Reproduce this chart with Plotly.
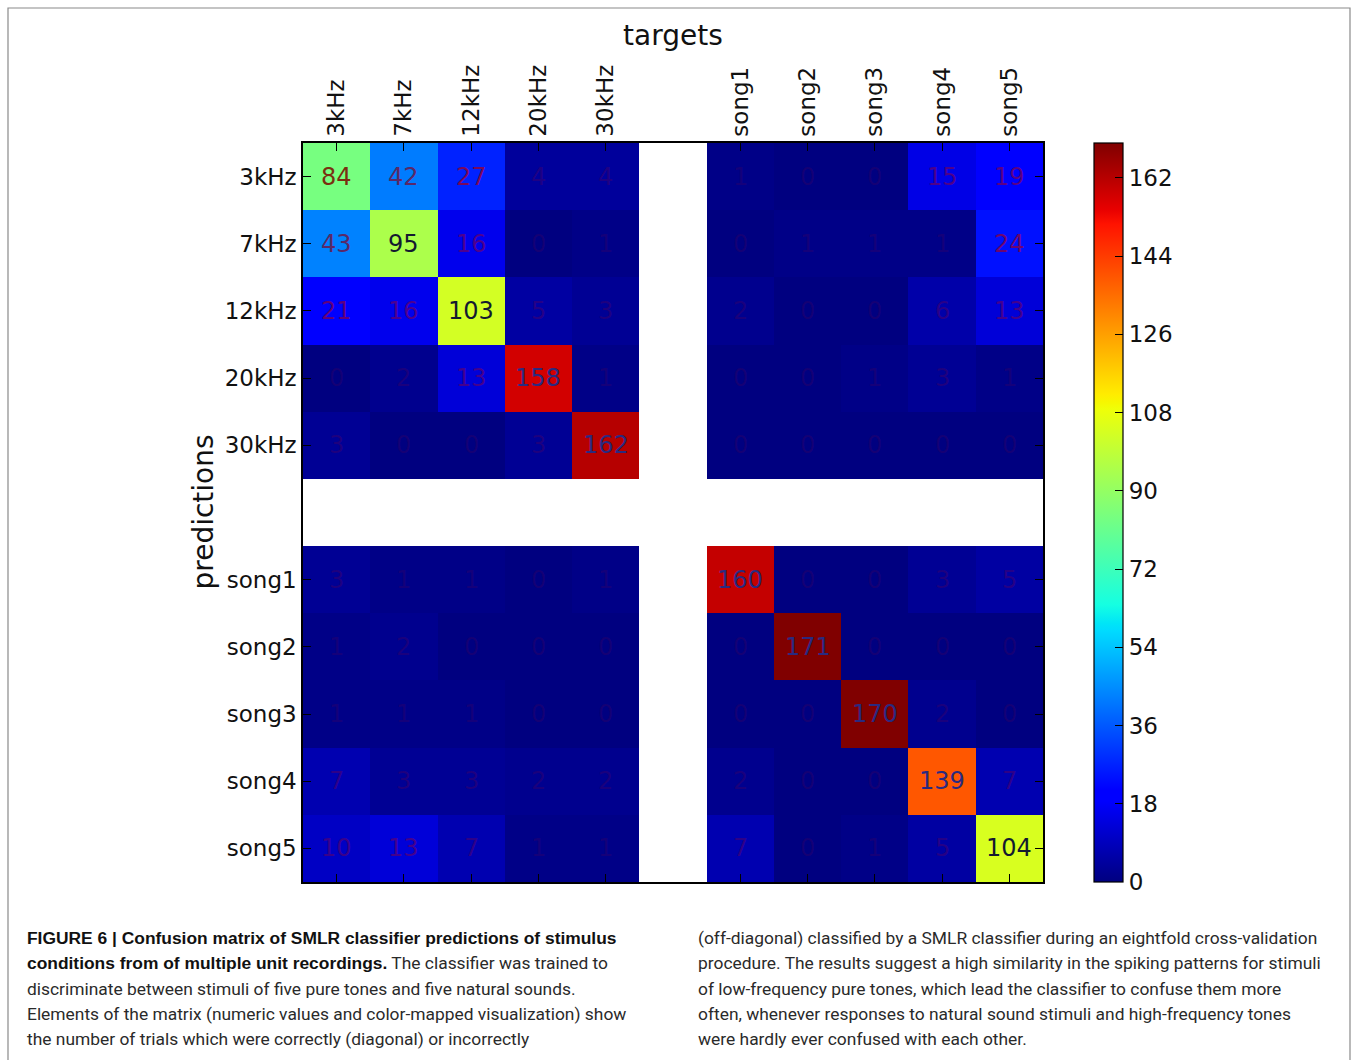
import plotly.graph_objects as go
import numpy as np

# ---------------- data ----------------
targets = ["3kHz", "7kHz", "12kHz", "20kHz", "30kHz", " ", "song1", "song2", "song3", "song4", "song5"]
predictions = ["3kHz", "7kHz", "12kHz", "20kHz", "30kHz", " ", "song1", "song2", "song3", "song4", "song5"]

row_3kHz  = [84, 42, 27, 4, 4, None, 1, 0, 0, 15, 19]
row_7kHz  = [43, 95, 16, 0, 1, None, 0, 1, 1, 1, 24]
row_12kHz = [21, 16, 103, 5, 3, None, 2, 0, 0, 6, 13]
row_20kHz = [0, 2, 13, 158, 1, None, 0, 0, 1, 3, 1]
row_30kHz = [3, 0, 0, 3, 162, None, 0, 0, 0, 0, 0]
row_gap   = [None] * 11
row_song1 = [3, 1, 1, 0, 1, None, 160, 0, 0, 3, 5]
row_song2 = [1, 2, 0, 0, 0, None, 0, 171, 0, 0, 0]
row_song3 = [1, 1, 1, 0, 0, None, 0, 0, 170, 2, 0]
row_song4 = [7, 3, 3, 2, 2, None, 2, 0, 0, 139, 7]
row_song5 = [10, 13, 7, 1, 1, None, 7, 0, 1, 5, 104]

matrix = [row_3kHz, row_7kHz, row_12kHz, row_20kHz, row_30kHz, row_gap,
          row_song1, row_song2, row_song3, row_song4, row_song5]

tick_labels = ["3kHz", "7kHz", "12kHz", "20kHz", "30kHz", "song1", "song2", "song3", "song4", "song5"]
cbar_ticks = [0, 18, 36, 54, 72, 90, 108, 126, 144, 162]

B = '<span style="font-family:Liberation Sans, Arial;font-weight:bold;color:#111">%s</span>'
caption_left = [
    B % "FIGURE 6 | Confusion matrix of SMLR classifier predictions of stimulus",
    B % "conditions from of multiple unit recordings." + " The classifier was trained to",
    "discriminate between stimuli of five pure tones and five natural sounds.",
    "Elements of the matrix (numeric values and color-mapped visualization) show",
    "the number of trials which were correctly (diagonal) or incorrectly",
]
caption_right = [
    "(off-diagonal) classified by a SMLR classifier during an eightfold cross-validation",
    "procedure. The results suggest a high similarity in the spiking patterns for stimuli",
    "of low-frequency pure tones, which lead the classifier to confuse them more",
    "often, whenever responses to natural sound stimuli and high-frequency tones",
    "were hardly ever confused with each other.",
]

# ---------------- matplotlib "jet" colorscale ----------------
seg = {
    "r": [(0, 0), (0.35, 0), (0.66, 1), (0.89, 1), (1, 0.5)],
    "g": [(0, 0), (0.125, 0), (0.375, 1), (0.64, 1), (0.91, 0), (1, 0)],
    "b": [(0, 0.5), (0.11, 1), (0.34, 1), (0.65, 0), (1, 0)],
}
stops = sorted(set(p for ch in seg.values() for p, _ in ch))
jet = []
for s in stops:
    rgb = [np.interp(s, [p for p, _ in seg[c]], [v for _, v in seg[c]]) for c in "rgb"]
    jet.append([s, "rgb(%d,%d,%d)" % tuple(int(round(255 * v)) for v in rgb)])

W, H = 1354, 1060
px = lambda x: x / W
py = lambda y: 1 - y / H

x0, x1, y0, y1 = 303, 1043, 143, 882

fig = go.Figure()
fig.add_trace(go.Heatmap(
    z=matrix, x=targets, y=predictions,
    colorscale=jet, zmin=0, zmax=170,
    hoverongaps=False, xgap=0, ygap=0,
    colorbar=dict(
        x=px(1094), xanchor="left", xref="paper",
        y=py((y0 + y1) / 2), yanchor="middle",
        len=(y1 - y0) / H, lenmode="fraction",
        thickness=29, thicknessmode="pixels",
        outlinecolor="black", outlinewidth=1.2,
        tickvals=cbar_ticks, ticks="inside", ticklen=8, tickcolor="black",
        tickfont=dict(family="DejaVu Sans", size=23, color="#111"),
        xpad=0, ypad=0,
    ),
))

def text_color(v):
    if v < 30:
        a = 0.12 + 0.7 * v / 30
        return "rgba(165,0,35,%.2f)" % a
    if v < 60:
        return "#5a2868"
    if v < 90:
        return "#7a3010"
    if v < 120:
        return "#141a30"
    return "#2a2a80"

annotations = []
for i, row in enumerate(matrix):
    for j, v in enumerate(row):
        if v is None:
            continue
        annotations.append(dict(
            x=targets[j], y=predictions[i], xref="x", yref="y",
            text=str(v), showarrow=False,
            font=dict(family="DejaVu Sans", size=24, color=text_color(v)),
        ))

annotations.append(dict(x=px((x0 + x1) / 2), y=py(35), xref="paper", yref="paper",
                        xanchor="center", yanchor="middle",
                        text="targets", showarrow=False,
                        font=dict(family="DejaVu Sans", size=28, color="#111")))
annotations.append(dict(x=px(203), y=py((y0 + y1) / 2), xref="paper", yref="paper",
                        xanchor="center", yanchor="middle",
                        text="predictions", showarrow=False, textangle=-90,
                        font=dict(family="DejaVu Sans", size=28, color="#111")))

cap_font = "Roboto, Liberation Sans, Arial"
for k, line in enumerate(caption_left):
    annotations.append(dict(x=px(25), y=py(938 + 25.3 * k), xref="paper", yref="paper",
                            xanchor="left", yanchor="middle", text=line, showarrow=False,
                            font=dict(family=cap_font, size=17.4, color="#2a2a2a")))
for k, line in enumerate(caption_right):
    annotations.append(dict(x=px(696), y=py(938 + 25.3 * k), xref="paper", yref="paper",
                            xanchor="left", yanchor="middle", text=line, showarrow=False,
                            font=dict(family=cap_font, size=17.4, color="#2a2a2a")))

fig.update_layout(
    width=W, height=H,
    margin=dict(l=0, r=0, t=0, b=0),
    paper_bgcolor="white", plot_bgcolor="white",
    annotations=annotations,
    shapes=[dict(type="rect", xref="paper", yref="paper",
                 x0=px(8), x1=px(1350), y0=py(1075), y1=py(8),
                 line=dict(color="#8a8a8a", width=1.2))],
    xaxis=dict(
        domain=[px(x0), px(x1)], side="top", type="category",
        categoryorder="array", categoryarray=targets,
        tickvals=tick_labels, ticktext=tick_labels, tickangle=-90,
        ticks="inside", ticklen=8, tickcolor="black",
        showline=True, mirror="allticks", linecolor="black", linewidth=1.5,
        showgrid=False, zeroline=False,
        tickfont=dict(family="DejaVu Sans", size=23, color="#111"),
    ),
    yaxis=dict(
        domain=[py(y1), py(y0)], type="category",
        categoryorder="array", categoryarray=predictions, autorange="reversed",
        tickvals=tick_labels, ticktext=tick_labels,
        ticks="inside", ticklen=8, tickcolor="black",
        showline=True, mirror="allticks", linecolor="black", linewidth=1.5,
        showgrid=False, zeroline=False,
        tickfont=dict(family="DejaVu Sans", size=23, color="#111"),
    ),
)

fig.write_html("out.html")
